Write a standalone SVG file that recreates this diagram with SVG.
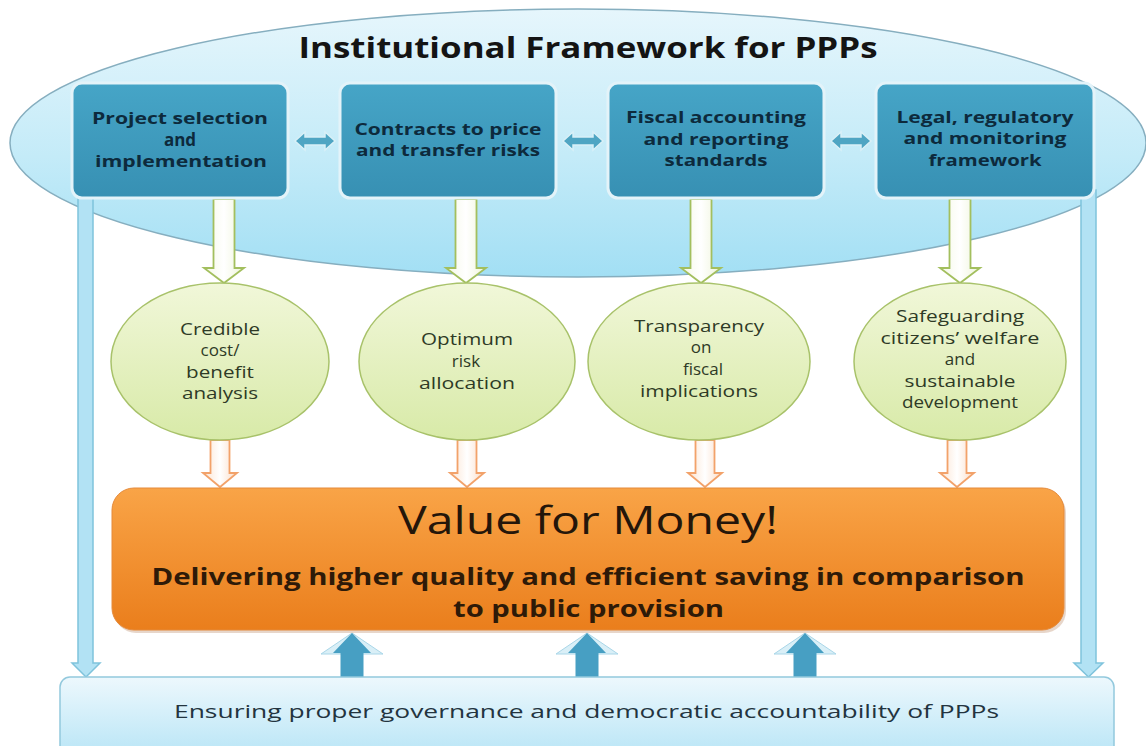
<svg xmlns="http://www.w3.org/2000/svg" width="1146" height="746" viewBox="0 0 1146 746">
<defs>
<linearGradient id="gEll" x1="0" y1="0" x2="0" y2="1">
<stop offset="0" stop-color="#E6F6FC"/><stop offset="0.55" stop-color="#C4EBF8"/><stop offset="1" stop-color="#A2DFF4"/>
</linearGradient>
<linearGradient id="gBox" x1="0" y1="0" x2="0" y2="1">
<stop offset="0" stop-color="#46A5C7"/><stop offset="1" stop-color="#3790B3"/>
</linearGradient>
<linearGradient id="gCirc" x1="0" y1="0" x2="0" y2="1">
<stop offset="0" stop-color="#F1F7D9"/><stop offset="1" stop-color="#D8EAA8"/>
</linearGradient>
<linearGradient id="gOr" x1="0" y1="0" x2="0" y2="1">
<stop offset="0" stop-color="#F9A447"/><stop offset="1" stop-color="#EA7E1C"/>
</linearGradient>
<linearGradient id="gBot" x1="0" y1="0" x2="0" y2="1">
<stop offset="0" stop-color="#EDF8FD"/><stop offset="1" stop-color="#B8E5F6"/>
</linearGradient>
<linearGradient id="gCream" x1="0" y1="0" x2="1" y2="0">
<stop offset="0" stop-color="#F4F8E6"/><stop offset="0.5" stop-color="#FFFFFF"/><stop offset="1" stop-color="#EEF4D8"/>
</linearGradient>
<linearGradient id="gPeach" x1="0" y1="0" x2="1" y2="0">
<stop offset="0" stop-color="#FCE3D0"/><stop offset="0.5" stop-color="#FFFFFF"/><stop offset="1" stop-color="#FBDCC6"/>
</linearGradient>
<style>
.box{fill:url(#gBox);stroke:#E3F3F9;stroke-width:3}
.bt{font-family:"Open Sans","DejaVu Sans",sans-serif;font-weight:bold;font-size:16px;fill:#0D2A3C;text-anchor:middle}
.ct{font-family:"Open Sans","DejaVu Sans",sans-serif;font-size:15.5px;fill:#2E3A26;text-anchor:middle}
.cs{font-size:17px}
.bs{font-size:17px}
.circ{fill:url(#gCirc);stroke:#A8C26A;stroke-width:1.5}
.dbl{fill:#4FA5C3;stroke:#D9F0F7;stroke-width:1.5}
.side{fill:#B2E2F4;stroke:#7FC3DC;stroke-width:1.5}
.grn{fill:url(#gCream);stroke:#A3BF5E;stroke-width:1.8}
.org{fill:url(#gPeach);stroke:#F2A26A;stroke-width:1.8}
.upd{fill:#479FC3}
.upl{fill:#D9EFF7;stroke:#A9D6E8;stroke-width:1}
</style>
</defs>

<g id="framework">
<ellipse cx="578" cy="143" rx="568" ry="134" fill="url(#gEll)" stroke="#86AEBF" stroke-width="1.5"/>
<text x="588" y="58" font-family="'Open Sans','DejaVu Sans',sans-serif" font-weight="bold" font-size="29" fill="#141414" text-anchor="middle" textLength="579" lengthAdjust="spacingAndGlyphs">Institutional Framework for PPPs</text>
</g>

<g id="connectors">
<polygon class="side" points="78,190 93,190 93,663 100,663 86,677 72,663 78,663"/>
<polygon class="side" points="1081,190 1096,190 1096,663 1103,663 1088.5,677 1074,663 1081,663"/>
<polygon class="grn" points="213.5,199 234.5,199 234.5,268 244,268 224,283 204,268 213.5,268"/>
<polygon class="grn" points="455.5,199 476.5,199 476.5,268 486,268 466,283 446,268 455.5,268"/>
<polygon class="grn" points="690.5,199 711.5,199 711.5,268 721,268 701,283 681,268 690.5,268"/>
<polygon class="grn" points="949.5,199 970.5,199 970.5,268 980,268 960,283 940,268 949.5,268"/>
<polygon class="dbl" points="295,141 305,132 305,137 325,137 325,132 335,141 325,150 325,145 305,145 305,150"/>
<polygon class="dbl" points="563,141 573,132 573,137 593,137 593,132 603,141 593,150 593,145 573,145 573,150"/>
<polygon class="dbl" points="831,141 841,132 841,137 861,137 861,132 871,141 861,150 861,145 841,145 841,150"/>
<polygon class="org" points="210.5,440 229.5,440 229.5,473 237,473 220,487 203,473 210.5,473"/>
<polygon class="org" points="457.5,440 476.5,440 476.5,473 484,473 467,487 450,473 457.5,473"/>
<polygon class="org" points="695.5,440 714.5,440 714.5,473 722,473 705,487 688,473 695.5,473"/>
<polygon class="org" points="947.5,440 966.5,440 966.5,473 974,473 957,487 940,473 947.5,473"/>
<polygon class="upl" points="321,654 352,633 383,654"/>
<polygon class="upd" points="340.5,678 340.5,653 333,653 352,633 371,653 363.5,653 363.5,678"/>
<polygon class="upl" points="556,654 587,633 618,654"/>
<polygon class="upd" points="575.5,678 575.5,653 568,653 587,633 606,653 598.5,653 598.5,678"/>
<polygon class="upl" points="774,654 805,633 836,654"/>
<polygon class="upd" points="793.5,678 793.5,653 786,653 805,633 824,653 816.5,653 816.5,678"/>
</g>

<g id="box1">
<rect class="box" x="72" y="83" width="216" height="115" rx="10"/>
<text class="bt" x="180" y="124" textLength="176" lengthAdjust="spacingAndGlyphs">Project selection</text>
<text class="bt bs" x="180" y="146">and</text>
<text class="bt" x="181" y="167" textLength="172" lengthAdjust="spacingAndGlyphs">implementation</text>
</g>
<g id="box2">
<rect class="box" x="340" y="83" width="216" height="115" rx="10"/>
<text class="bt" x="448" y="135" textLength="187" lengthAdjust="spacingAndGlyphs">Contracts to price</text>
<text class="bt" x="448" y="156" textLength="184" lengthAdjust="spacingAndGlyphs">and transfer risks</text>
</g>
<g id="box3">
<rect class="box" x="608" y="83" width="216" height="115" rx="10"/>
<text class="bt" x="716" y="123" textLength="180" lengthAdjust="spacingAndGlyphs">Fiscal accounting</text>
<text class="bt" x="716" y="145" textLength="145" lengthAdjust="spacingAndGlyphs">and reporting</text>
<text class="bt" x="716" y="166" textLength="103" lengthAdjust="spacingAndGlyphs">standards</text>
</g>
<g id="box4">
<rect class="box" x="876" y="83" width="218" height="115" rx="10"/>
<text class="bt" x="985" y="123" textLength="177" lengthAdjust="spacingAndGlyphs">Legal, regulatory</text>
<text class="bt" x="985" y="144" textLength="163" lengthAdjust="spacingAndGlyphs">and monitoring</text>
<text class="bt" x="985" y="166" textLength="113" lengthAdjust="spacingAndGlyphs">framework</text>
</g>

<g id="circle1">
<ellipse class="circ" cx="220" cy="361.5" rx="109" ry="78.5"/>
<text class="ct" x="220" y="335" textLength="80" lengthAdjust="spacingAndGlyphs">Credible</text>
<text class="ct cs" x="220" y="356">cost/</text>
<text class="ct" x="220" y="378" textLength="68" lengthAdjust="spacingAndGlyphs">benefit</text>
<text class="ct" x="220" y="399" textLength="76" lengthAdjust="spacingAndGlyphs">analysis</text>
</g>
<g id="circle2">
<ellipse class="circ" cx="467" cy="361.5" rx="108" ry="78.5"/>
<text class="ct" x="467" y="345" textLength="92" lengthAdjust="spacingAndGlyphs">Optimum</text>
<text class="ct cs" x="466" y="367">risk</text>
<text class="ct" x="467" y="389" textLength="96" lengthAdjust="spacingAndGlyphs">allocation</text>
</g>
<g id="circle3">
<ellipse class="circ" cx="699" cy="361.5" rx="111" ry="78.5"/>
<text class="ct" x="699" y="332" textLength="130" lengthAdjust="spacingAndGlyphs">Transparency</text>
<text class="ct cs" x="701" y="353">on</text>
<text class="ct cs" x="703" y="375">fiscal</text>
<text class="ct" x="699" y="397" textLength="118" lengthAdjust="spacingAndGlyphs">implications</text>
</g>
<g id="circle4">
<ellipse class="circ" cx="960" cy="361.5" rx="106" ry="78.5"/>
<text class="ct" x="960" y="322" textLength="128" lengthAdjust="spacingAndGlyphs">Safeguarding</text>
<text class="ct" x="960" y="344" textLength="159" lengthAdjust="spacingAndGlyphs">citizens’ welfare</text>
<text class="ct cs" x="960" y="365">and</text>
<text class="ct" x="960" y="387" textLength="111" lengthAdjust="spacingAndGlyphs">sustainable</text>
<text class="ct" x="960" y="408" textLength="116" lengthAdjust="spacingAndGlyphs">development</text>
</g>

<g id="value">
<rect x="114" y="491" width="952" height="142" rx="22" fill="#C9A58A" opacity="0.45"/>
<rect x="112" y="488" width="952" height="142" rx="22" fill="url(#gOr)" stroke="#E58A3A" stroke-width="1"/>
<text x="588" y="534" font-family="'Open Sans','DejaVu Sans',sans-serif" font-size="38" fill="#24160A" text-anchor="middle" textLength="380" lengthAdjust="spacingAndGlyphs">Value for Money!</text>
<text x="588" y="585" font-family="'Open Sans','DejaVu Sans',sans-serif" font-weight="bold" font-size="24" fill="#2E1A08" text-anchor="middle" textLength="873" lengthAdjust="spacingAndGlyphs">Delivering higher quality and efficient saving in comparison</text>
<text x="588.5" y="617" font-family="'Open Sans','DejaVu Sans',sans-serif" font-weight="bold" font-size="24" fill="#2E1A08" text-anchor="middle" textLength="271" lengthAdjust="spacingAndGlyphs">to public provision</text>
</g>

<g id="governance">
<rect x="60" y="677" width="1054" height="80" rx="10" fill="url(#gBot)" stroke="#93C9DD" stroke-width="1.5"/>
<text x="586.5" y="718" font-family="'Open Sans','DejaVu Sans',sans-serif" font-size="19" fill="#23343F" text-anchor="middle" textLength="825" lengthAdjust="spacingAndGlyphs">Ensuring proper governance and democratic accountability of PPPs</text>
</g>
</svg>
